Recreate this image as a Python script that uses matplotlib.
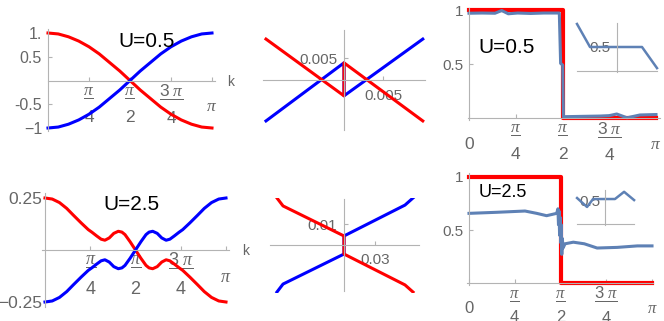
import numpy as np
import matplotlib
matplotlib.use("Agg")
import matplotlib.pyplot as plt

plt.rcParams['font.family'] = ['Liberation Sans', 'DejaVu Sans']
plt.rcParams['mathtext.fontset'] = 'custom'
plt.rcParams['mathtext.rm'] = 'Liberation Sans'
plt.rcParams['mathtext.it'] = 'Liberation Serif:italic'
plt.rcParams['mathtext.bf'] = 'Liberation Sans:bold'

RED = '#ff0000'
BLUE = '#0000ff'
STEEL = '#5e81b5'
AX = '#b3b3b3'
TK = '#666666'

##################################################################
# data (k in units of pi where noted)

# U=0.5 band, full zone
k1 = [0, 1/16, 2/16, 3/16, 4/16, 5/16, 6/16, 7/16, 8/16,
      9/16, 10/16, 11/16, 12/16, 13/16, 14/16, 15/16, 1]
red1 = [1.00, 0.98, 0.92, 0.83, 0.71, 0.56, 0.38, 0.20, 0.00,
        -0.20, -0.38, -0.56, -0.71, -0.83, -0.92, -0.98, -1.00]
blue1 = [-1.00, -0.98, -0.92, -0.83, -0.71, -0.56, -0.38, -0.20, 0.00,
         0.20, 0.38, 0.56, 0.71, 0.83, 0.92, 0.98, 1.00]

# U=0.5 zoom near k=pi/2
k2 = [-0.0100, 0.0, 0.0, 0.0101]
red2 = [0.0093, -0.0036, 0.0039, -0.0093]
blue2 = [-0.0093, 0.0039, -0.0036, 0.0093]

# U=0.5 occupation
k3_red = [0, 0.5, 1]
n3_red = [1, 0, 0]
k3 = [0.00, 0.07, 0.139, 0.175, 0.21, 0.26, 0.33, 0.40, 0.483, 0.490,
      0.501, 0.505, 0.60, 0.70, 0.75, 0.79, 0.845, 0.914, 1.00]
n3 = [0.970, 0.972, 0.970, 0.995, 0.965, 0.972, 0.968, 0.972, 0.972, 0.506,
      0.49, 0.012, 0.015, 0.018, 0.022, 0.037, 0.002, 0.028, 0.032]
k3_in = [-1.0, -0.675, 0.625, 1.0]
n3_in = [0.98, 0.5, 0.5, 0.06]

# U=2.5 band, full zone
k4 = [0.000, 0.040, 0.080, 0.120, 0.156, 0.200, 0.239, 0.260, 0.285, 0.310,
      0.331, 0.355, 0.380, 0.405, 0.425, 0.442, 0.470, 0.500, 0.530, 0.558,
      0.575, 0.595, 0.620, 0.645, 0.669, 0.690, 0.715, 0.740, 0.761, 0.800,
      0.844, 0.880, 0.920, 0.960, 1.000]
red4 = [0.250, 0.245, 0.228, 0.200, 0.168, 0.130, 0.098, 0.085, 0.068, 0.052,
        0.047, 0.058, 0.080, 0.090, 0.086, 0.074, 0.040, 0.000, -0.040, -0.074,
        -0.086, -0.090, -0.080, -0.058, -0.047, -0.052, -0.068, -0.085, -0.098, -0.130,
        -0.168, -0.200, -0.228, -0.245, -0.250]
blue4 = [-0.250, -0.245, -0.228, -0.200, -0.168, -0.130, -0.098, -0.085, -0.068, -0.052,
         -0.047, -0.058, -0.080, -0.090, -0.086, -0.074, -0.040, 0.000, 0.040, 0.074,
         0.086, 0.090, 0.080, 0.058, 0.047, 0.052, 0.068, 0.085, 0.098, 0.130,
         0.168, 0.200, 0.228, 0.245, 0.250]

# U=2.5 zoom near k=pi/2
k5 = [-0.0649, -0.0590, 0.0, 0.0, 0.0590, 0.0668]
red5 = [0.0224, 0.0186, 0.0043, -0.0043, -0.0190, -0.0224]
blue5 = [-0.0224, -0.0186, -0.0043, 0.0043, 0.0190, 0.0224]

# U=2.5 occupation
k6_red = [0, 0.5, 1]
n6_red = [1, 0, 0]
k6 = [0.000, 0.151, 0.306, 0.370, 0.424, 0.479, 0.486, 0.489, 0.492, 0.495,
      0.498, 0.501, 0.504, 0.507, 0.510, 0.514, 0.525, 0.570, 0.630, 0.700,
      0.810, 0.920, 1.000]
n6 = [0.657, 0.667, 0.679, 0.657, 0.635, 0.657, 0.70, 0.55, 0.68, 0.45,
      0.62, 0.38, 0.55, 0.27, 0.42, 0.33, 0.37, 0.385, 0.37, 0.33,
      0.336, 0.35, 0.35]
k6_in = [-0.98, -0.63, -0.42, 0.35, 0.67, 1.02]
n6_in = [0.565, 0.37, 0.543, 0.543, 0.70, 0.52]

pi_ticks = [0.25, 0.5, 0.75, 1.0]
# numerator with its bar on the first line, denominator on the second
pi_labels = [r'$\dfrac{\pi}{\,}$' + '\n4', r'$\dfrac{\pi}{\,}$' + '\n2',
             r'$\dfrac{3\ \pi}{\,}$' + '\n4', r'$\pi$']

##################################################################

W, H = 664, 321
fig = plt.figure(figsize=(W / 100, H / 100), dpi=100)


def panel(box, xref, yref, face='white'):
    # box in pixels (left, top, right, bottom); refs are two (pixel, value) pairs
    l, t, r, b = box
    ax = fig.add_axes([l / W, 1 - b / H, (r - l) / W, (b - t) / H])
    (p0, v0), (p1, v1) = xref
    s = (v1 - v0) / (p1 - p0)
    ax.set_xlim(v0 + (l - p0) * s, v0 + (r - p0) * s)
    (q0, w0), (q1, w1) = yref
    s = (w1 - w0) / (q1 - q0)
    ax.set_ylim(w0 + (b - q0) * s, w0 + (t - q0) * s)
    ax.set_facecolor(face)
    ax.set_axisbelow(True)
    return ax


def mma_axes(ax, xb, yb, fs, xpad, ypad, xfs=None):
    for s in ['top', 'right']:
        ax.spines[s].set_visible(False)
    ax.spines['bottom'].set_position(('data', 0))
    ax.spines['left'].set_position(('data', 0))
    ax.spines['bottom'].set_bounds(*xb)
    ax.spines['left'].set_bounds(*yb)
    for s in ['bottom', 'left']:
        ax.spines[s].set_color(AX)
        ax.spines[s].set_linewidth(0.8)
    ax.tick_params(direction='in', length=3, width=0.8, color=AX,
                   labelcolor=TK, labelsize=fs)
    ax.tick_params(axis='x', pad=xpad, labelsize=xfs or fs)
    ax.tick_params(axis='y', pad=ypad)


def center_xlabels(ax, ls=1.0):
    for lab in ax.get_xticklabels():
        lab.set_verticalalignment('center')
        lab.set_multialignment('center')
        lab.set_linespacing(ls)


def ftext(x, y, s, size, color='black', ha='center', va='baseline'):
    fig.text(x / W, 1 - y / H, s, fontsize=size, color=color, ha=ha, va=va)


PI = np.pi

# ---- top left
ax1 = panel((0, 0, 236, 160), ((48, 0), (212, PI)), ((80.5, 0), (33, 1)))
ax1.plot(PI * np.array(k1), red1, color=RED, lw=2.2)
ax1.plot(PI * np.array(k1), blue1, color=BLUE, lw=2.2)
mma_axes(ax1, (0, 3.2), (-1.06, 1.08), 11.5, 19, 4.3, xfs=12.5)
ax1.set_xticks(PI * np.array(pi_ticks), pi_labels)
ax1.set_yticks([-1, -0.5, 0.5, 1], ['\u22121', '-0.5', '0.5', '1.'])
center_xlabels(ax1, ls=1.45)

# ---- top middle
ax2 = panel((236, 0, 432, 160), ((344, 0), (383, 0.005)), ((80, 0), (58, 0.005)))
ax2.plot(k2, blue2, color=BLUE, lw=2.2)
ax2.plot(k2, red2, color=RED, lw=2.2)
mma_axes(ax2, (-0.0104, 0.0104), (-0.0114, 0.0114), 11, 11.5, 5)
ax2.set_xticks([0.005], ['0.005'])
ax2.set_yticks([0.005], ['0.005'])
center_xlabels(ax2)

# ---- top right
ax3 = panel((432, 0, 664, 160), ((469, 0), (656, PI)), ((118, 0), (10, 1)))
ax3.plot(PI * np.array(k3_red), n3_red, color=RED, lw=3, drawstyle='steps-post')
ax3.plot(PI * np.array(k3), n3, color=STEEL, lw=2.2)
mma_axes(ax3, (-0.017, 3.21), (-0.02, 1.02), 11, 19, 4.3, xfs=12.5)
ax3.set_xticks(PI * np.array([0] + pi_ticks), ['0'] + pi_labels)
ax3.set_yticks([0.5, 1], ['0.5', '1'])
center_xlabels(ax3, ls=1.45)

# ---- bottom left
ax4 = panel((0, 160, 240, 321), ((45, 0), (226, PI)), ((250, 0), (198, 0.25)))
ax4.plot(PI * np.array(k4), red4, color=RED, lw=2.2)
ax4.plot(PI * np.array(k4), blue4, color=BLUE, lw=2.2)
mma_axes(ax4, (-0.05, 3.195), (-0.274, 0.274), 12.5, 20, 2, xfs=13)
ax4.set_xticks(PI * np.array(pi_ticks), pi_labels)
ax4.set_yticks([-0.25, 0.25], ['\u22120.25', '0.25'])
center_xlabels(ax4, ls=1.45)

# ---- bottom middle
ax5 = panel((252, 198, 432, 293), ((344, 0), (375, 0.03)), ((245, 0), (224, 0.01)))
ax5.plot(k5, blue5, color=BLUE, lw=2.2)
ax5.plot(k5, red5, color=RED, lw=2.2)
mma_axes(ax5, (-0.0716, 0.0726), (-0.0219, 0.0219), 11, 10.8, 5)
ax5.set_xticks([0.03], ['0.03'])
ax5.set_yticks([0.01], ['0.01'])
center_xlabels(ax5)

# ---- bottom right
ax6 = panel((447, 160, 664, 321), ((469, 0), (652, PI)), ((283, 0), (177, 1)))
ax6.plot(PI * np.array(k6_red), n6_red, color=RED, lw=3, drawstyle='steps-post')
ax6.plot(PI * np.array(k6), n6, color=STEEL, lw=2.2)
mma_axes(ax6, (-0.034, 3.16), (-0.02, 1.04), 11, 18.5, 4.3, xfs=12)
ax6.set_xticks(PI * np.array([0] + pi_ticks), ['0'] + pi_labels)
ax6.set_yticks([0.5, 1], ['0.5', '1'])
center_xlabels(ax6, ls=1.3)

# ---- insets
ax3i = panel((574, 18, 662, 76), ((617, 0), (657, 1)), ((71, 0), (47, 0.5)), face='none')
ax3i.plot(k3_in, n3_in, color=STEEL, lw=1.8)
mma_axes(ax3i, (-1, 1), (-0.02, 1.0), 11, 4, 5)
ax3i.set_xticks([])
ax3i.set_yticks([0.5], ['0.5'])
ax3i.tick_params(axis='y', length=0)

ax6i = panel((573, 185, 640, 228), ((605, 0), (633.5, 1)), ((224, 0), (201, 0.5)), face='none')
ax6i.plot(k6_in, n6_in, color=STEEL, lw=1.8)
mma_axes(ax6i, (-0.98, 1.02), (-0.02, 0.74), 11, 4, 3.6)
ax6i.set_xticks([])
ax6i.set_yticks([0.5], ['0.5'])
ax6i.tick_params(axis='y', length=0)

# ---- labels
ftext(146.5, 47, 'U=0.5', 15)
ftext(478, 53, 'U=0.5', 15, ha='left')
ftext(131.5, 210, 'U=2.5', 15)
ftext(479, 197, 'U=2.5', 13, ha='left')
ftext(231, 86, 'k', 10, color=TK)
ftext(245.5, 255, 'k', 10, color=TK)

fig.savefig("out.png", dpi=100)
